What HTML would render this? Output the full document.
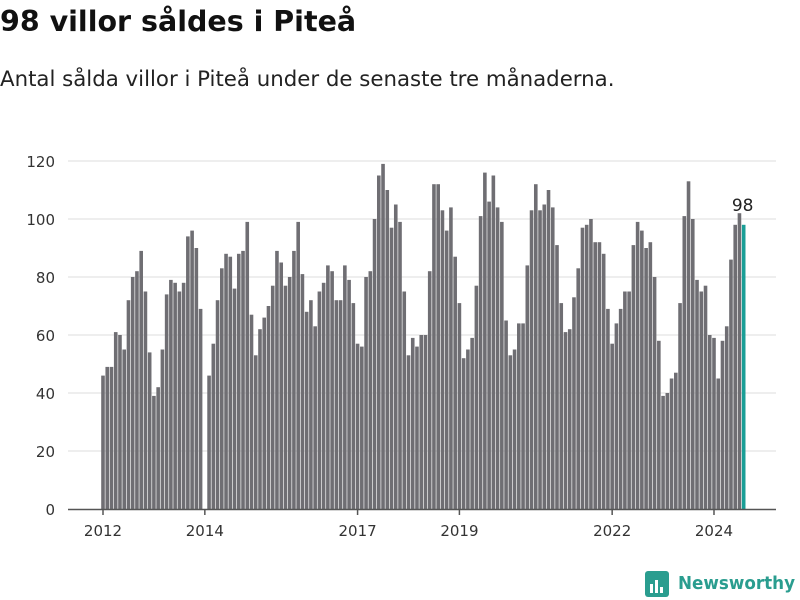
<!DOCTYPE html>
<html><head><meta charset="utf-8"><style>
body{margin:0;background:#fff;width:800px;height:600px;overflow:hidden;font-family:"DejaVu Sans","Liberation Sans",sans-serif}
#t{position:absolute;left:0;top:5px;font-size:28.5px;font-weight:bold;color:#111;margin:0}
#s{position:absolute;left:0;top:67px;font-size:21.3px;color:#222}
svg{position:absolute;left:0;top:0}
</style></head><body>
<h1 id="t">98 villor såldes i Piteå</h1>
<div id="s">Antal sålda villor i Piteå under de senaste tre månaderna.</div>
<svg id="c" width="800" height="600">
<g>
<rect x="645" y="571" width="24" height="26" rx="3" fill="#2a9d8f"/>
<rect x="650" y="584" width="3" height="9" fill="#fff"/><rect x="655" y="580" width="3" height="13" fill="#fff"/><rect x="660" y="587" width="3" height="6" fill="#fff"/>
<text x="678" y="589" font-size="18" font-weight="bold" fill="#2a9d8f" textLength="117" lengthAdjust="spacingAndGlyphs" font-family="DejaVu Sans, sans-serif">Newsworthy</text>
</g>
</svg>
<script>
const startYear=2012;
const values=[46,49,49,61,60,55,72,80,82,89,75,54,
39,42,55,74,79,78,75,78,94,96,90,69,
0,46,57,72,83,88,87,76,88,89,99,67,
53,62,66,70,77,89,85,77,80,89,99,81,
68,72,63,75,78,84,82,72,72,84,79,71,
57,56,80,82,100,115,119,110,97,105,99,75,
53,59,56,60,60,82,112,112,103,96,104,87,
71,52,55,59,77,101,116,106,115,104,99,65,
53,55,64,64,84,103,112,103,105,110,104,91,
71,61,62,73,83,97,98,100,92,92,88,69,
57,64,69,75,75,91,99,96,90,92,80,58,
39,40,45,47,71,101,113,100,79,75,77,60,
59,45,58,63,86,98,102,98];
const yTicks=[0,20,40,60,80,100,120];
const xTickYears=[2012,2014,2017,2019,2022,2024];
const NS='http://www.w3.org/2000/svg';
const svg=document.getElementById('c');
const y=v=>509-v*(348/120);
const x=i=>103+i*4.243;
function mk(t,a){const e=document.createElementNS(NS,t);for(const k in a)e.setAttribute(k,a[k]);svg.appendChild(e);return e;}
yTicks.forEach(v=>{
 if(v>0){const g=mk('line',{x1:68,x2:776,y1:y(v),y2:y(v),stroke:'#ddd','stroke-width':1});
 
 }
 const t=mk('text',{x:55,y:y(v)+6,'text-anchor':'end','font-size':15,fill:'#333'});t.textContent=v;
 
 
});
values.forEach((v,i)=>{
 const last=i===values.length-1;
 const r=mk('rect',{x:x(i)-1.8,y:y(v),width:3.6,height:509-y(v),fill:last?'#1a9e96':'#6f6e73'});
 
 
});
const ax=mk('line',{x1:68,x2:776,y1:509.5,y2:509.5,stroke:'#555','stroke-width':1.5});


xTickYears.forEach(yr=>{
 const i=(yr-startYear)*12;
 const tk=mk('line',{x1:x(i),x2:x(i),y1:509,y2:515,stroke:'#555','stroke-width':1.5});
 
 
 const t=mk('text',{x:x(i),y:536,'text-anchor':'middle','font-size':15,fill:'#333'});t.textContent=yr;
 
 
});
const li=values.length-1;
const lab=mk('text',{x:x(li)-1,y:y(values[li])-14,'text-anchor':'middle','font-size':17,fill:'#222'});lab.textContent=values[li];


</script>
</body></html>
